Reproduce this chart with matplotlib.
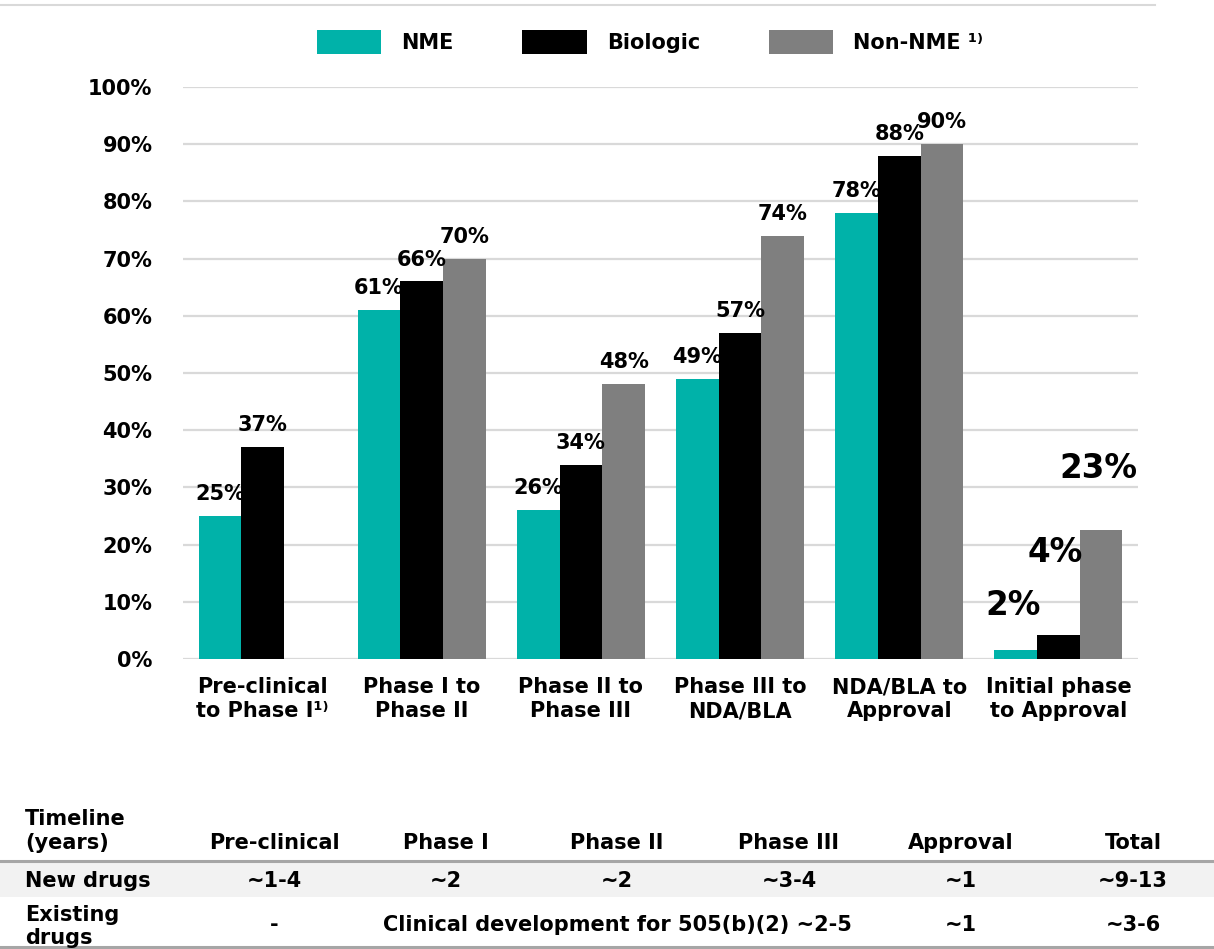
import numpy as np
import matplotlib.pyplot as plt
from matplotlib.patches import Patch, Rectangle
from matplotlib.lines import Line2D

# success rates per transition (%)
stages = [
    "Pre-clinical\nto Phase I¹⁾",
    "Phase I to\nPhase II",
    "Phase II to\nPhase III",
    "Phase III to\nNDA/BLA",
    "NDA/BLA to\nApproval",
    "Initial phase\nto Approval",
]
nme = [25, 61, 26, 49, 78, 1.5]
biologic = [37, 66, 34, 57, 88, 4.2]
non_nme = [np.nan, 70, 48, 74, 90, 22.6]
series_names = ["NME", "Biologic", "Non-NME ¹⁾"]

# timeline table
table_cols = ["Pre-clinical", "Phase I", "Phase II", "Phase III", "Approval", "Total"]
new_drugs = ["~1-4", "~2", "~2", "~3-4", "~1", "~9-13"]
existing_drugs = ["-", "Clinical development for 505(b)(2) ~2-5", "~1", "~3-6"]

colors = ["#00b2a9", "#000000", "#7f7f7f"]

plt.rcParams["font.family"] = "DejaVu Sans"
plt.rcParams["font.weight"] = "bold"

W, H = 1214, 949
fig = plt.figure(figsize=(W / 100, H / 100), dpi=100)
ax = fig.add_axes([183 / W, 1 - 659 / H, (1138 - 183) / W, (659 - 87) / H])

x = np.arange(len(stages))
width = 0.268
all_series = [nme, biologic, non_nme]
for i, vals in enumerate(all_series):
    ax.bar(x + (i - 1) * width, vals, width, color=colors[i], zorder=3)

# value labels; last group uses large, staggered labels
big_offsets = [35, 73, 52]  # px above bar top
for i, vals in enumerate(all_series):
    for j, v in enumerate(vals):
        if np.isnan(v):
            continue
        xc = x[j] + (i - 1) * width
        if j == len(stages) - 1:
            ax.annotate(f"{v:.0f}%", (xc, v), xytext=(-2, big_offsets[i] * 0.72),
                        textcoords="offset points", ha="center", va="baseline",
                        fontsize=23.5, fontweight="bold", zorder=5)
        else:
            ax.annotate(f"{v:.0f}%", (xc, v), xytext=(0, 11.5),
                        textcoords="offset points", ha="center", va="baseline",
                        fontsize=15, fontweight="bold", zorder=5)

ax.set_ylim(0, 100)
ax.set_xlim(-0.5, len(stages) - 0.5)
ax.set_yticks(np.arange(0, 101, 10))
ax.set_yticklabels([f"{t}%" for t in range(0, 101, 10)], fontsize=15, fontweight="bold")
ax.set_xticks(x)
ax.set_xticklabels(stages, fontsize=15, fontweight="bold", linespacing=1.25)
ax.tick_params(axis="both", length=0)
ax.tick_params(axis="y", pad=22)
ax.tick_params(axis="x", pad=13)
for s in ax.spines.values():
    s.set_visible(False)
ax.grid(axis="y", color="#d9d9d9", linewidth=1.6, zorder=0)
ax.set_axisbelow(True)

# legend
handles = [Patch(facecolor=c, edgecolor="none") for c in colors]
fig.legend(handles, series_names, loc="center", bbox_to_anchor=(650 / W, 1 - 42 / H),
           ncol=3, frameon=False, prop={"size": 15, "weight": "bold"},
           handlelength=3.1, handleheight=1.45, handletextpad=0.95, columnspacing=3.3)

# thin rule at the top
fig.add_artist(Line2D([0, 1155 / W], [1 - 5 / H, 1 - 5 / H], color="#d9d9d9", linewidth=1.5))

# timeline table
col_x = [274, 446, 617, 789, 961, 1133]
fs = 15


def fy(py):
    return 1 - py / H


fig.add_artist(Rectangle((0, fy(897)), 1, (897 - 863) / H, transform=fig.transFigure,
                         facecolor="#f2f2f2", edgecolor="none", zorder=0))
for py in (861, 947):
    fig.add_artist(Line2D([0, 1], [fy(py), fy(py)], color="#a6a6a6", linewidth=2.2))

fig.text(25 / W, fy(825), "Timeline", fontsize=fs, fontweight="bold", va="baseline")
fig.text(25 / W, fy(849), "(years)", fontsize=fs, fontweight="bold", va="baseline")
for cx, lab in zip(col_x, table_cols):
    fig.text(cx / W, fy(849), lab, fontsize=fs, fontweight="bold", ha="center", va="baseline")

fig.text(25 / W, fy(887), "New drugs", fontsize=fs, fontweight="bold", va="baseline")
for cx, lab in zip(col_x, new_drugs):
    fig.text(cx / W, fy(887), lab, fontsize=fs, fontweight="bold", ha="center", va="baseline")

fig.text(25 / W, fy(921), "Existing", fontsize=fs, fontweight="bold", va="baseline")
fig.text(25 / W, fy(944), "drugs", fontsize=fs, fontweight="bold", va="baseline")
existing_x = [274, 617, 961, 1133]
for cx, lab in zip(existing_x, existing_drugs):
    fig.text(cx / W, fy(931), lab, fontsize=fs, fontweight="bold", ha="center", va="baseline")

fig.savefig("out.png", dpi=100)
plt.close(fig)
